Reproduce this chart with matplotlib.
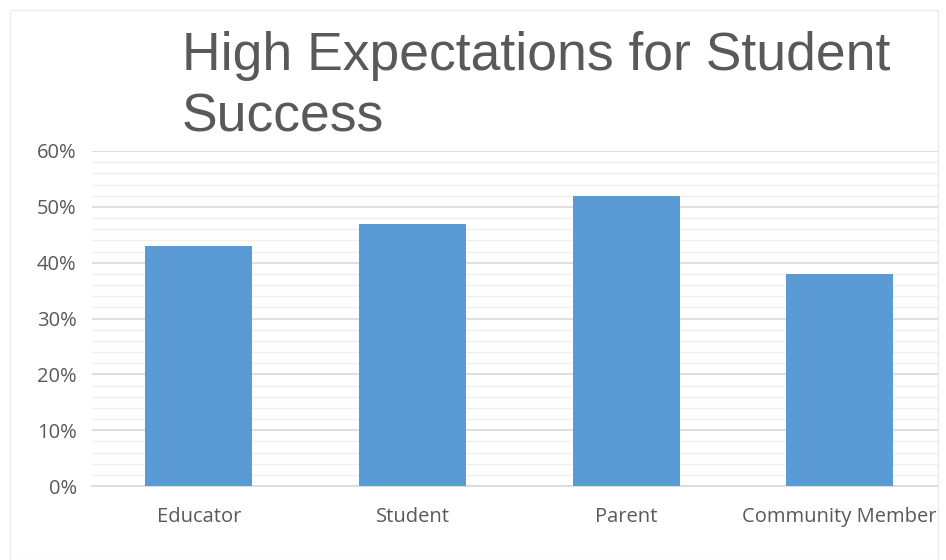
import matplotlib.pyplot as plt
from matplotlib.ticker import MultipleLocator, PercentFormatter
from matplotlib.patches import Rectangle

categories = ["Educator", "Student", "Parent", "Community Member"]
values = [43, 47, 52, 38]
title = "High Expectations for Student\nSuccess"

W, H = 946, 560
fig = plt.figure(figsize=(W / 100, H / 100), dpi=100)
fig.patch.set_facecolor("white")

# faint outer frame like the excel chart area
fig.add_artist(Rectangle((10 / W, 0), 928 / W, 1 - 10 / H, transform=fig.transFigure,
                         fill=False, edgecolor="#ececec", linewidth=1))

ax = fig.add_axes([92 / W, (H - 486) / H, (938 - 92) / W, (486 - 151) / H])
x = range(len(categories))
ax.bar(x, values, width=0.5, color="#5B9BD5", zorder=3)

ax.set_ylim(0, 60)
ax.set_xlim(-0.5, len(categories) - 0.5 - 0.04)
ax.yaxis.set_major_locator(MultipleLocator(10))
ax.yaxis.set_minor_locator(MultipleLocator(2))
ax.yaxis.set_major_formatter(PercentFormatter(decimals=0))
ax.grid(axis="y", which="major", color="#d9d9d9", linewidth=1.2, zorder=0)
ax.grid(axis="y", which="minor", color="#efefef", linewidth=1.0, zorder=0)

ax.set_xticks(list(x))
ax.set_xticklabels(categories)
for s in ["top", "right", "left"]:
    ax.spines[s].set_visible(False)
ax.spines["bottom"].set_color("#d9d9d9")
ax.spines["bottom"].set_linewidth(1.2)
ax.tick_params(axis="both", which="both", length=0, labelsize=14.5, labelcolor="#595959")
ax.tick_params(axis="x", pad=15)
ax.tick_params(axis="y", pad=11)
for lbl in ax.get_xticklabels() + ax.get_yticklabels():
    lbl.set_family("Open Sans")

fig.text(182 / W, 1 - 31 / H, title, fontsize=38.5,
         family="Liberation Sans", color="#595959", ha="left", va="top", linespacing=1.3)

fig.savefig("out.png", dpi=100, facecolor="white")
